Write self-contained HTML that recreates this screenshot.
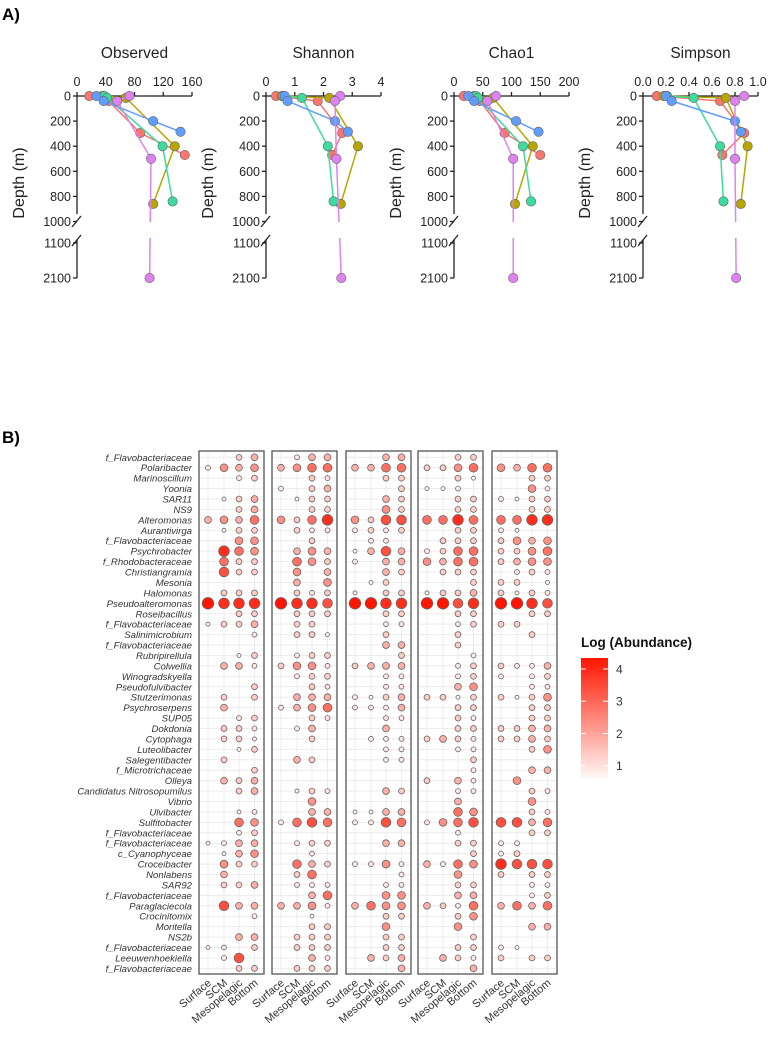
<!DOCTYPE html>
<html><head><meta charset="utf-8"><style>
body{margin:0;background:#fff}
svg{display:block;font-family:"Liberation Sans",sans-serif}
</style></head><body>
<svg id="fig" width="768" height="1039" viewBox="0 0 768 1039">
<text x="2" y="20" font-size="17" font-weight="bold">A)</text>
<text x="2" y="443" font-size="17" font-weight="bold">B)</text>
<g id="pa"></g>
<g id="pb"></g>
<g id="legend">
<defs><linearGradient id="lg" x1="0" y1="1" x2="0" y2="0"><stop offset="0" stop-color="#fff8f6"/><stop offset="1" stop-color="#ff1500"/></linearGradient></defs>
<text x="581" y="647" font-size="13.5" font-weight="bold" fill="#111">Log (Abundance)</text>
<rect x="581" y="658" width="27" height="120" fill="url(#lg)"/>
</g>
</svg>
<script>
const NS="http://www.w3.org/2000/svg";
function mk(p,tag,at){const e=document.createElementNS(NS,tag);for(const k in at)e.setAttribute(k,at[k]);p.appendChild(e);return e;}

// ---------- Panel A data ----------
const metrics=["Observed","Shannon","Chao1","Simpson"];
const metricTicks=[[0,40,80,120,160],[0,1,2,3,4],[0,50,100,150,200],[0.0,0.2,0.4,0.6,0.8,1.0]];
const depthTicks=[0,200,400,600,800,1000,1100,2100];
const stationColors=["#F8766D","#B8A600","#3DDC9E","#619CFF","#DE82F2"];
const depthRed=[0,40,295,470];
const depthOlive=[0,15,400,860];
const depthGreen=[0,15,400,840];
const depthBlue=[0,40,200,285];
const depthViolet=[0,40,500,2100];
const observedVals=[[17,44,88,150],[35,68,136,106],[38,42,119,133],[27,37,106,144],[73,56,103,101]];
const shannonVals=[[0.35,1.8,2.65,2.3],[0.55,2.2,3.2,2.6],[0.6,1.25,2.15,2.35],[0.65,0.75,2.4,2.85],[2.58,2.4,2.45,2.62]];
const chao1Vals=[[17,45,88,150],[35,68,137,106],[38,42,120,134],[25,35,108,147],[73,58,103,103]];
const simpsonVals=[[0.12,0.67,0.88,0.69],[0.18,0.72,0.91,0.85],[0.21,0.44,0.67,0.70],[0.2,0.25,0.8,0.85],[0.88,0.8,0.8,0.81]];
const stationDepths=[depthRed,depthOlive,depthGreen,depthBlue,depthViolet];
const metricVals=[observedVals,shannonVals,chao1Vals,simpsonVals];

const axX0=[77,266,454,643];
const axW=115;
function yDepth(d){return d<=1000?96+d*0.1255:243+(d-1100)*0.035;}
const pa=document.getElementById('pa');
metrics.forEach((m,i)=>{
  const g=mk(pa,'g',{});
  
  
  const x0=axX0[i],tk=metricTicks[i],vmax=tk[tk.length-1];
  const sx=v=>x0+v/vmax*axW;
  const t=mk(g,'text',{x:x0+axW/2,y:58,'font-size':15.5,'text-anchor':'middle',fill:'#222'});t.textContent=m;
  
  const ax=mk(g,'g',{stroke:'#222','stroke-width':1.3});
  
  mk(ax,'line',{x1:x0,y1:96,x2:x0+axW,y2:96});
  tk.forEach(v=>{mk(ax,'line',{x1:sx(v),y1:96,x2:sx(v),y2:92});
    const l=mk(g,'text',{x:sx(v),y:86,'font-size':12.5,'text-anchor':'middle',fill:'#222'});l.textContent=(i==3?v.toFixed(1):v);
    });
  const ay=mk(g,'g',{stroke:'#222','stroke-width':1.3});
  
  mk(ay,'line',{x1:x0,y1:96,x2:x0,y2:214});
  mk(ay,'line',{x1:x0,y1:240,x2:x0,y2:278});
  mk(ay,'line',{x1:x0-5,y1:227,x2:x0+4,y2:216});
  mk(ay,'line',{x1:x0-5,y1:246,x2:x0+4,y2:235});
  depthTicks.forEach(d=>{const y=yDepth(d);mk(ay,'line',{x1:x0-4,y1:y,x2:x0,y2:y});
    const l=mk(g,'text',{x:x0-6,y:y+4.5,'font-size':12.5,'text-anchor':'end',fill:'#222'});l.textContent=d;
    });
  const yl=mk(g,'text',{x:0,y:0,'font-size':16,'text-anchor':'middle',fill:'#222',transform:`translate(${x0-53},183) rotate(-90)`});
  yl.textContent='Depth (m)';
  metricVals[i].forEach((vals,s)=>{
    const sg=mk(g,'g',{});
    
    const ds=stationDepths[s];
    for(let k=0;k<ds.length-1;k++){
      const a=ds[k],b=ds[k+1];
      const xa=sx(vals[k]),xb=sx(vals[k+1]);
      if(b>1000){
        const ya=yDepth(a),yb=yDepth(b);
        const f1=(222-ya)/(yb-ya), f2=(238-ya)/(yb-ya);
        mk(sg,'line',{x1:xa,y1:ya,x2:xa+(xb-xa)*f1,y2:222,stroke:stationColors[s],'stroke-width':1.5});
        mk(sg,'line',{x1:xa+(xb-xa)*f2,y1:238,x2:xb,y2:yb,stroke:stationColors[s],'stroke-width':1.5});
      } else mk(sg,'line',{x1:xa,y1:yDepth(a),x2:xb,y2:yDepth(b),stroke:stationColors[s],'stroke-width':1.5});
    }
    ds.forEach((d,k)=>{const c=mk(sg,'circle',{cx:sx(vals[k]),cy:yDepth(d),r:4.7,fill:stationColors[s],stroke:'#666','stroke-width':0.6});
      });
  });
});

// ---------- Panel B data ----------
const taxa=["f_Flavobacteriaceae","Polaribacter","Marinoscillum","Yoonia","SAR11","NS9","Alteromonas","Aurantivirga","f_Flavobacteriaceae","Psychrobacter","f_Rhodobacteraceae","Christiangramia","Mesonia","Halomonas","Pseudoalteromonas","Roseibacillus","f_Flavobacteriaceae","Salinimicrobium","f_Flavobacteriaceae","Rubripirellula","Colwellia","Winogradskyella","Pseudofulvibacter","Stutzerimonas","Psychroserpens","SUP05","Dokdonia","Cytophaga","Luteolibacter","Salegentibacter","f_Microtrichaceae","Olleya","Candidatus Nitrosopumilus","Vibrio","Ulvibacter","Sulfitobacter","f_Flavobacteriaceae","f_Flavobacteriaceae","c_Cyanophyceae","Croceibacter","Nonlabens","SAR92","f_Flavobacteriaceae","Paraglaciecola","Crocinitomix","Moritella","NS2b","f_Flavobacteriaceae","Leeuwenhoekiella","f_Flavobacteriaceae"];
const zones=["Surface","SCM","Mesopelagic","Bottom"];
// abundance in half-log units (digit/2 = log abundance), 5 panels x 4 zones per row
const abundanceHalfLog=[
"0034 0244 0044 0033 0000","2545 4566 4466 3356 5466","0023 0032 0033 0031 0033","0000 2034 0003 1120 0052",
"0134 0133 0043 0033 2133","0034 0033 0053 0033 0033","4546 5368 5377 6686 6688","0133 0322 2323 0033 2100",
"0055 0030 0220 0333 3545","0865 0454 1474 2366 3356","0633 0653 2044 5466 3455","0733 0504 0043 0333 0232",
"0000 0405 0130 0003 3301","0333 0323 1033 1334 3132","9888 9887 9988 9978 9987","0033 0333 0033 0033 0033",
"1334 0330 0022 0023 3300","0002 0331 0030 0030 0030","0000 0000 0044 0030 0000","0013 0233 0003 0002 0000",
"0442 3552 3444 0023 3224","0000 0233 0022 0023 2023","0003 0032 0022 0045 0022","0303 0444 2134 3313 3135",
"0400 2456 2224 0033 0033","0023 0032 0022 0032 0033","0332 0240 0040 0033 3344","0331 0030 0222 3432 3343",
"0013 0000 0022 0022 0035","0300 0430 0022 0003 0000","0003 0000 0000 0002 0044","0434 0000 0000 3042 0500",
"0034 0132 0043 0022 0032","0000 0050 0000 0040 0050","0012 0044 1144 0065 0032","0065 2676 2276 2567 7746",
"0023 0000 0000 0020 0033","1244 0233 0044 0033 2200","0145 0020 0000 0003 2300","0533 0643 2252 4265 8777",
"0400 0360 0002 0050 3033","0334 0222 0022 0033 0022","0000 0046 0055 0044 0023","0744 4452 4655 4326 4646",
"0002 0010 0033 0035 0000","0000 0033 0050 0050 0044","0044 0333 0033 0003 0000","1203 0333 0033 0033 2100",
"0270 0042 0434 0432 3033","0033 0333 0004 0004 0000"];

const panelX=[199,272,346,418,492];
const panelW=65;
const colOff=[9,25,40,55.5];
const rowY0=457.3, rowStep=10.43, panelTop=451, panelBot=974;
function rowY(r){return rowY0+r*rowStep;}
function colX(p,c){return panelX[p]+colOff[c];}
function bubbleR(v){return 1.5+v*0.95;}
function bubbleFill(v){let t=(v-0.6)/(4.34-0.6);t=Math.max(0,Math.min(1,t));t=Math.pow(t,1.15);
  const r=255,g=Math.round(248-(248-21)*t),b=Math.round(246-246*t);return `rgb(${r},${g},${b})`;}
const pb=document.getElementById('pb');
taxa.forEach((tx,r)=>{const l=mk(pb,'text',{x:192,y:rowY(r)+3.5,'font-size':9.6,'font-style':'italic','text-anchor':'end',fill:'#333'});
  l.textContent=tx;});
for(let p=0;p<5;p++){
  const g=mk(pb,'g',{});
  
  mk(g,'rect',{x:panelX[p],y:panelTop,width:panelW,height:panelBot-panelTop,fill:'#fff'});
  taxa.forEach((_,r)=>mk(g,'line',{x1:panelX[p],x2:panelX[p]+panelW,y1:rowY(r),y2:rowY(r),stroke:'#ececec','stroke-width':1}));
  zones.forEach((_,c)=>mk(g,'line',{x1:colX(p,c),x2:colX(p,c),y1:panelTop,y2:panelBot,stroke:'#ececec','stroke-width':1}));
  abundanceHalfLog.forEach((row,r)=>{const seg=row.split(' ')[p];
    for(let c=0;c<4;c++){const d=+seg[c];if(!d)continue;const v=d/2;
      const b=mk(g,'circle',{cx:colX(p,c),cy:rowY(r),r:bubbleR(v),fill:bubbleFill(v),stroke:'#666','stroke-width':0.8});
      }});
  mk(g,'rect',{x:panelX[p],y:panelTop,width:panelW,height:panelBot-panelTop,fill:'none',stroke:'#555','stroke-width':1.3});
  zones.forEach((z,c)=>{const t=mk(pb,'text',{x:0,y:0,'font-size':11,'text-anchor':'end',fill:'#333',transform:`translate(${colX(p,c)+4},${984}) rotate(-40)`});
    t.textContent=z;});
}
const legendTicks=[1,2,3,4];
const lgd=document.getElementById('legend');
legendTicks.forEach(v=>{const y=778-(v-0.62)/(4.34-0.62)*120;
  mk(lgd,'line',{x1:581,x2:586,y1:y,y2:y,stroke:'#fff','stroke-width':1});
  mk(lgd,'line',{x1:603,x2:608,y1:y,y2:y,stroke:'#fff','stroke-width':1});
  const t=mk(lgd,'text',{x:616,y:y+4.5,'font-size':12,fill:'#333'});t.textContent=v;
  });
</script>
</body></html>
